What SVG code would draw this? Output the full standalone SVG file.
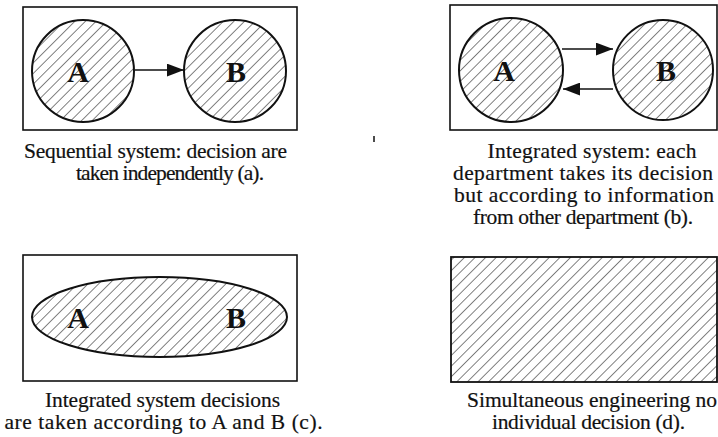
<svg xmlns="http://www.w3.org/2000/svg" width="718" height="437" viewBox="0 0 718 437">
  <style>
    .box { fill: none; stroke: #111; stroke-width: 1.6; }
    .hbox { fill: url(#hatch); stroke: #111; stroke-width: 1.8; }
    .shape { fill: url(#hatch); stroke: #111; stroke-width: 2; }
    .lbl { font-family: "Liberation Serif", "Times New Roman", serif; font-weight: bold; font-size: 30px; fill: #111; text-anchor: middle; }
    .cap { font-family: "Liberation Serif", "Times New Roman", serif; font-size: 21.5px; fill: #111; text-anchor: middle; stroke: #111; stroke-width: 0.2; }
    .conn { stroke: #111; stroke-width: 1.6; fill: none; marker-end: url(#head); }
  </style>
  <defs>
    <pattern id="hatch" patternUnits="userSpaceOnUse" width="7.5" height="7.5" patternTransform="rotate(45)">
      <line x1="0" y1="0" x2="0" y2="7.5" stroke="#1a1a1a" stroke-width="1.1"/>
    </pattern>
    <marker id="head" viewBox="0 0 16 12" refX="16" refY="6" markerWidth="17" markerHeight="13" markerUnits="userSpaceOnUse" orient="auto">
      <path d="M0,0 L16,6 L0,12 z" fill="#111"/>
    </marker>
  </defs>

  <rect x="0" y="0" width="718" height="437" fill="#fff"/>

  <!-- Panel a -->
  <g id="panel-a">
    <rect class="box" x="23" y="7" width="274" height="123"/>
  </g>
  <g id="a-nodeA">
    <circle class="shape" cx="83" cy="71" r="51"/>
    <text class="lbl" x="78" y="82">A</text>
  </g>
  <g id="a-nodeB">
    <circle class="shape" cx="235" cy="71" r="51"/>
    <text class="lbl" x="236" y="82">B</text>
  </g>
  <g id="caption-a">
    <text class="cap" x="155.5" y="158" textLength="263" lengthAdjust="spacing">Sequential system: decision are</text>
    <text class="cap" x="170" y="180" textLength="188" lengthAdjust="spacing">taken independently (a).</text>
  </g>

  <!-- Panel b -->
  <g id="panel-b">
    <rect class="box" x="450" y="5" width="267" height="125"/>
  </g>
  <g id="b-nodeA">
    <circle class="shape" cx="511" cy="70" r="52"/>
    <text class="lbl" x="504" y="81">A</text>
  </g>
  <g id="b-nodeB">
    <circle class="shape" cx="663" cy="70" r="50"/>
    <text class="lbl" x="666" y="81">B</text>
  </g>
  <g id="caption-b">
    <text class="cap" x="592" y="158" textLength="209" lengthAdjust="spacing">Integrated system: each</text>
    <text class="cap" x="583" y="180" textLength="260" lengthAdjust="spacing">department takes its decision</text>
    <text class="cap" x="584" y="202" textLength="260" lengthAdjust="spacing">but according to information</text>
    <text class="cap" x="583" y="224" textLength="220" lengthAdjust="spacing">from other department (b).</text>
  </g>

  <!-- Panel c -->
  <g id="panel-c">
    <rect class="box" x="23" y="255" width="274" height="126"/>
  </g>
  <g id="c-nodeAB">
    <ellipse class="shape" cx="159.5" cy="317" rx="127.5" ry="40"/>
    <text class="lbl" x="78" y="328">A</text>
    <text class="lbl" x="236" y="328">B</text>
  </g>
  <g id="caption-c">
    <text class="cap" x="162.5" y="407" textLength="235" lengthAdjust="spacing">Integrated system decisions</text>
    <text class="cap" x="163.5" y="429" textLength="318" lengthAdjust="spacing">are taken according to A and B (c).</text>
  </g>

  <!-- Panel d -->
  <g id="panel-d">
    <rect class="hbox" x="451" y="257" width="266" height="125"/>
  </g>
  <g id="caption-d">
    <text class="cap" x="592" y="407" textLength="250" lengthAdjust="spacing">Simultaneous engineering no</text>
    <text class="cap" x="588.5" y="429" textLength="193" lengthAdjust="spacing">individual decision (d).</text>
  </g>

  <!-- Connectors -->
  <g id="connectors">
    <line class="conn" x1="135" y1="70" x2="184" y2="70"/>
    <line class="conn" x1="562" y1="49" x2="613" y2="49"/>
    <line class="conn" x1="613" y1="89" x2="563" y2="89"/>
  </g>

  <line x1="374" y1="136" x2="374" y2="142" stroke="#111" stroke-width="1.5"/>
</svg>
